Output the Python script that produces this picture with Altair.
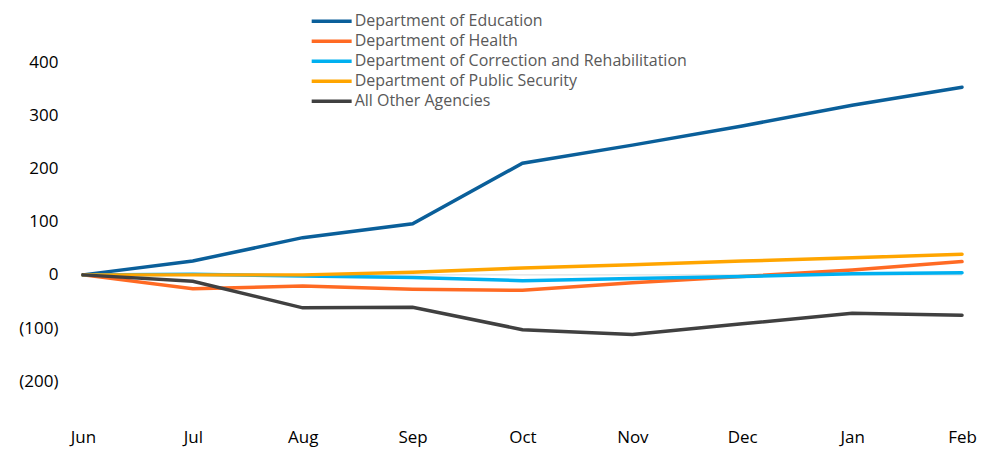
import altair as alt
import pandas as pd

months = ["Jun", "Jul", "Aug", "Sep", "Oct", "Nov", "Dec", "Jan", "Feb"]
series_names = [
    "Department of Education",
    "Department of Health",
    "Department of Correction and Rehabilitation",
    "Department of Public Security",
    "All Other Agencies",
]
education = [0, 26, 70, 96, 210, 244, 280, 319, 353]
health = [0, -26, -21, -27, -29, -15, -3, 9, 25]
correction = [0, 1, -2, -5, -11, -7, -3, 2, 4]
public_security = [0, 0, 0, 5, 13, 19, 26, 32, 39]
other = [0, -12, -62, -61, -103, -112, -92, -72, -76]
colors = ["#0a5f9a", "#ff6a23", "#00b0f0", "#ffa500", "#404040"]
y_ticks = [-200, -100, 0, 100, 200, 300, 400]

rows = []
for name, vals in zip(series_names, [education, health, correction, public_security, other]):
    for i, (m, v) in enumerate(zip(months, vals)):
        rows.append({"month": m, "value": v, "series": name, "order": i})
df = pd.DataFrame(rows)

font = "Open Sans"

x = alt.X("month:N", sort=months, scale=alt.Scale(type="point", padding=0),
          axis=alt.Axis(title=None, labelAngle=0, domain=False, ticks=False,
                        labelFontSize=17, labelColor="#000000", labelFont=font,
                        labelPadding=22, grid=False))
y = alt.Y("value:Q", scale=alt.Scale(domain=[-250, 400], nice=False, zero=False),
          axis=alt.Axis(title=None, values=y_ticks, domain=False, ticks=False, grid=False,
                        labelFontSize=17, labelColor="#000000", labelFont=font,
                        labelPadding=25,
                        labelExpr="datum.value < 0 ? '(' + format(-datum.value, ',') + ')' : format(datum.value, ',')"))

zero = alt.Chart(pd.DataFrame({"z": [0]})).mark_rule(color="#d9d9d9", strokeWidth=1).encode(
    y=alt.Y("z:Q", scale=alt.Scale(domain=[-250, 400], nice=False, zero=False))
)

lines = alt.Chart(df).mark_line(strokeWidth=3.5, strokeCap="round").encode(
    x=x, y=y,
    color=alt.Color("series:N", sort=series_names,
                    scale=alt.Scale(domain=series_names, range=colors),
                    legend=alt.Legend(title=None, orient="none", legendX=237, legendY=-53,
                                      symbolType="M-2,0H2", symbolSize=400, symbolStrokeWidth=3.5,
                                      labelFontSize=16, labelColor="#595959", labelFont=font,
                                      rowPadding=0, labelOffset=11, symbolOffset=0,
                                      labelLimit=500)),
    order="order:Q",
)

chart = alt.layer(zero, lines).properties(
    width=880, height=346,
    autosize=alt.AutoSizeParams(type="none"),
    padding={"left": 75, "top": 54, "right": 30, "bottom": 40},
).configure_view(stroke=None)

chart.save("out.html", embed_options={"renderer": "svg", "actions": False})
